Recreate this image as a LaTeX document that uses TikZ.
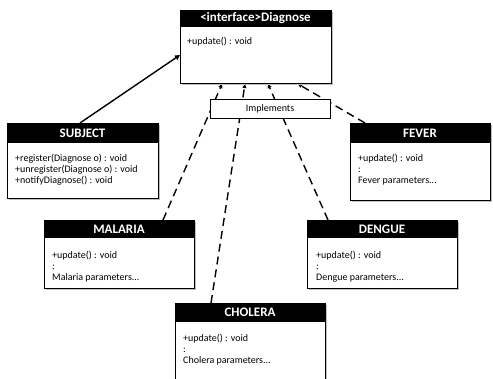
\documentclass[tikz,border=0pt]{standalone}
\usepackage{fontspec}
\setmainfont{Carlito}
\usetikzlibrary{arrows.meta}
\begin{document}
\begin{tikzpicture}[x=1pt,y=-1pt,
  body/.style={draw=black, line width=0.7pt, fill=white, anchor=north west, inner sep=0pt, outer sep=0pt},
  head/.style={fill=black, text=white, font=\bfseries\fontsize{13}{14}\selectfont, anchor=north west, inner sep=0pt, outer sep=0pt},
  txt/.style={anchor=north west, inner sep=0pt, font=\fontsize{10}{11}\selectfont, align=left},
  shadowline/.style={draw=black!25, line width=1.2pt},
  dashline/.style={draw=black, line width=1.4pt, dash pattern=on 8pt off 5pt, -{Triangle[length=4pt,width=4pt]}},
  solidline/.style={draw=black, line width=1.4pt, -{Triangle[length=5pt,width=5pt]}}]
\useasboundingbox (0,0) rectangle (493,378);
\fill[white] (0,0) rectangle (493,378);

% connectors (drawn first so boxes cover them)
\coordinate (dgL) at (180,55);
\coordinate (d1) at (222,84);
\coordinate (d2) at (245,84);
\coordinate (d3) at (268,84);
\coordinate (d4) at (298,84);
\coordinate (sTop) at (80,123);
\coordinate (mTop) at (163,220);
\coordinate (cTop) at (211,303);
\coordinate (gTop) at (328,220);
\coordinate (fTop) at (365,123);
\draw[solidline] (sTop) -- (dgL);
\draw[dashline] (mTop) -- (d1);
\draw[dashline] (cTop) -- (d2);
\draw[dashline] (gTop) -- (d3);
\draw[dashline] (fTop) -- (d4);

% Diagnose
\draw[shadowline] (182,84.5) -- (332.5,84.5) -- (332.5,12);
\node[body, minimum width=151, minimum height=73] (dg) at (180,10) {};
\node[head, minimum width=151, minimum height=17] (dgh) at (180,10) {\strut<interface>Diagnose};
\node[txt] (dgt) at (187,36.5) {+update() : void};

% Implements
\node[draw=black, line width=0.7pt, fill=white, minimum width=120, minimum height=19, inner sep=0pt, font=\fontsize{10}{11}\selectfont] (impl) at (270,108.5) {Implements};

% SUBJECT
\draw[shadowline] (9,199.5) -- (159.5,199.5) -- (159.5,125);
\node[body, minimum width=151, minimum height=75] (subj) at (7,123) {};
\node[head, minimum width=151, minimum height=20] (subjh) at (7,123) {SUBJECT};
\node[txt] (subjt) at (15,154) {+register(Diagnose o) : void\\+unregister(Diagnose o) : void\\+notifyDiagnose() : void};

% FEVER
\draw[shadowline] (352,201.5) -- (491.5,201.5) -- (491.5,125);
\node[body, minimum width=140, minimum height=77] (fev) at (350,123) {};
\node[head, minimum width=140, minimum height=20] (fevh) at (350,123) {FEVER};
\node[txt] (fevt) at (358,154) {+update() : void\\:\\Fever parameters...};

% MALARIA
\draw[shadowline] (46,289) -- (195.5,289) -- (195.5,222);
\node[body, minimum width=150, minimum height=68] (mal) at (44,220) {};
\node[head, minimum width=150, minimum height=18] (malh) at (44,220) {MALARIA};
\node[txt] (malt) at (52,251) {+update() : void\\:\\Malaria parameters...};

% DENGUE
\draw[shadowline] (309,289) -- (458.5,289) -- (458.5,222);
\node[body, minimum width=150, minimum height=68] (den) at (307,220) {};
\node[head, minimum width=150, minimum height=18] (denh) at (307,220) {DENGUE};
\node[txt] (dent) at (316,251) {+update() : void\\:\\Dengue parameters...};

% CHOLERA
\draw[shadowline] (326.5,305) -- (326.5,385);
\node[body, minimum width=150, minimum height=80] (cho) at (175,303) {};
\node[head, minimum width=150, minimum height=19] (choh) at (175,303) {CHOLERA};
\node[txt] (chot) at (183,334) {+update() : void\\:\\Cholera parameters...};
\end{tikzpicture}
\end{document}
